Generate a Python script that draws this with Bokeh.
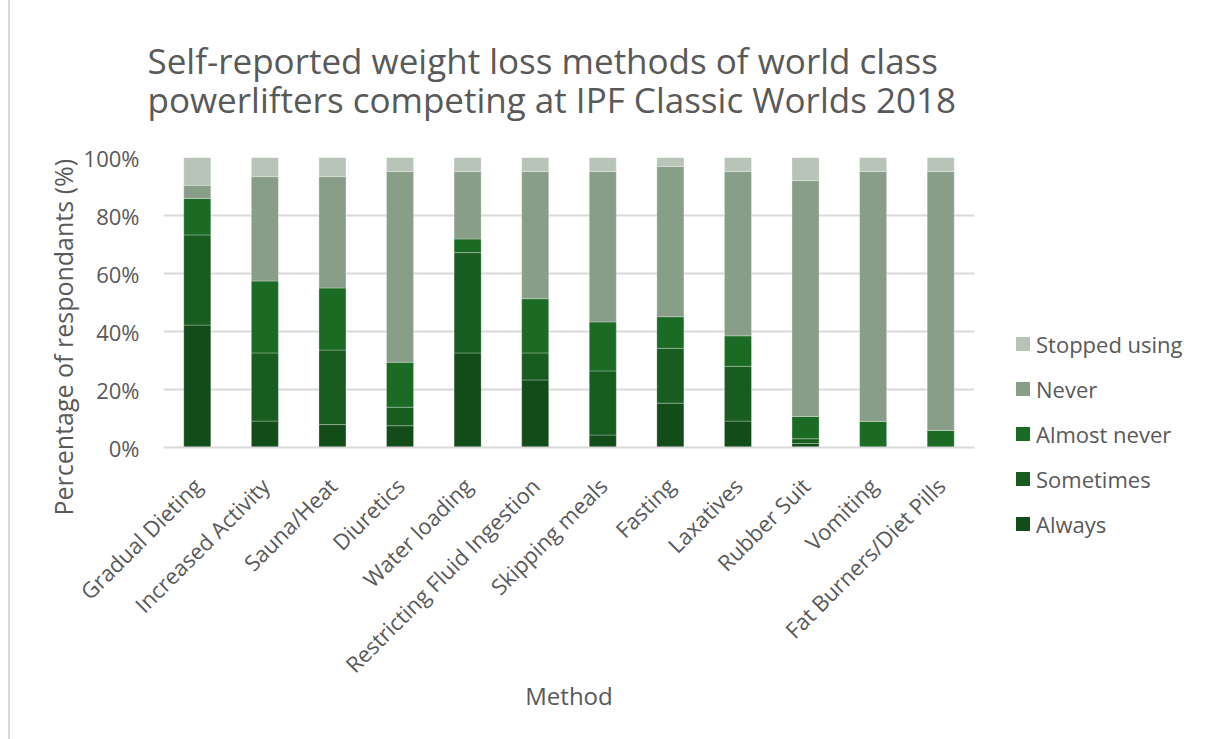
from math import pi

from bokeh.embed import file_html
from bokeh.resources import INLINE
from bokeh.plotting import figure
from bokeh.models import (ColumnDataSource, Title, Div,
                          NumeralTickFormatter, FixedTicker, Row)

# Survey answers per method (percent of respondents)
methods = ["Gradual Dieting", "Increased Activity", "Sauna/Heat", "Diuretics",
           "Water loading", "Restricting Fluid Ingestion", "Skipping meals",
           "Fasting", "Laxatives", "Rubber Suit", "Vomiting",
           "Fat Burners/Diet Pills"]
always = [42.2, 9.1, 7.9, 7.5, 32.6, 23.3, 4.3, 15.3, 9.1, 1.4, 0.0, 0.0]
sometimes = [31.1, 23.5, 25.7, 6.4, 34.6, 9.3, 22.1, 18.9, 18.9, 1.6, 0.0, 0.0]
almost_never = [12.6, 24.8, 21.4, 15.5, 4.7, 18.7, 16.9, 10.9, 10.5, 7.7, 9.0, 5.9]
never = [4.5, 36.0, 38.4, 65.8, 23.3, 43.9, 51.9, 51.8, 56.7, 81.3, 86.2, 89.3]
stopped = [9.6, 6.6, 6.6, 4.8, 4.8, 4.8, 4.8, 3.1, 4.8, 8.0, 4.8, 4.8]

series = ["Always", "Sometimes", "Almost never", "Never", "Stopped using"]
colors = ["#124c19", "#185c20", "#1c6b24", "#889e88", "#b8c4b8"]
y_ticks = [0, 0.2, 0.4, 0.6, 0.8, 1.0]

title_lines = ["Self-reported weight loss methods of world class",
               "powerlifters competing at IPF Classic Worlds 2018"]

FONT = "Open Sans"
TEXT = "#595959"
H = 739

src = ColumnDataSource({
    "method": methods,
    "Always": [v / 100 for v in always],
    "Sometimes": [v / 100 for v in sometimes],
    "Almost never": [v / 100 for v in almost_never],
    "Never": [v / 100 for v in never],
    "Stopped using": [v / 100 for v in stopped],
})

p = figure(x_range=methods, y_range=(0, 1.0), width=980, height=H,
           output_backend="svg", toolbar_location=None,
           min_border_left=153, min_border_right=16,
           min_border_top=156, min_border_bottom=292)
p.outline_line_color = None
p.border_fill_color = "white"

p.vbar_stack(series, x="method", width=0.4, source=src, color=colors,
             line_color="white", line_alpha=0.35, line_width=0.8)

p.yaxis.ticker = FixedTicker(ticks=y_ticks)
p.yaxis.formatter = NumeralTickFormatter(format="0%")
p.yaxis.axis_line_color = None
p.yaxis.major_tick_line_color = None
p.yaxis.minor_tick_line_color = None
p.yaxis.major_label_standoff = 18
p.yaxis.major_label_text_font = FONT
p.yaxis.major_label_text_font_size = "22px"
p.yaxis.major_label_text_color = TEXT

p.xaxis.axis_line_color = "#d9d9d9"
p.xaxis.axis_line_width = 2
p.xaxis.major_tick_line_color = None
p.xaxis.minor_tick_line_color = None
p.xaxis.major_label_orientation = pi / 4
p.xaxis.major_label_standoff = 28
p.xaxis.major_label_text_font = FONT
p.xaxis.major_label_text_font_size = "22px"
p.xaxis.major_label_text_color = TEXT
p.xaxis.axis_label = "Method"
p.xaxis.axis_label_text_font = FONT
p.xaxis.axis_label_text_font_size = "24px"
p.xaxis.axis_label_text_font_style = "normal"
p.xaxis.axis_label_text_color = TEXT
p.xaxis.axis_label_standoff = -13

p.xgrid.grid_line_color = None
p.ygrid.ticker = FixedTicker(ticks=y_ticks)
p.ygrid.grid_line_color = "#d9d9d9"
p.ygrid.grid_line_width = 2

# chart title
p.title.text = "\n".join(title_lines)
p.title.align = "left"
p.title.offset = -16
p.title.standoff = 68
p.title.text_font = FONT
p.title.text_font_size = "35px"
p.title.text_font_style = "normal"
p.title.text_color = TEXT
if "text_line_height" in Title.properties():
    p.title.text_line_height = 0.85

# vertical axis title
p.add_layout(Title(text="Percentage of respondants (%)", align="left",
                   offset=-68, standoff=2, text_font=FONT,
                   text_font_size="25px", text_font_style="normal",
                   text_color=TEXT), "left")

# legend column, top entry is the top of the stack
rows = "".join(
    '<div style="height:45px;display:flex;align-items:center;'
    'white-space:nowrap">'
    f'<span style="display:inline-block;width:14px;height:14px;'
    f'background:{c};margin-right:6px"></span>{name}</div>'
    for name, c in zip(series[::-1], colors[::-1]))
legend_box = Div(
    text=(f'<div style="padding-top:321px;padding-left:26px;'
          f'font-family:\'{FONT}\';font-size:22px;color:{TEXT};'
          f'line-height:1">{rows}</div>'),
    width=215, height=H, margin=0,
    styles={"background": "white"})

edge = Div(width=10, height=H, margin=0,
           styles={"border-right": "2px solid #d9d9d9",
                   "box-sizing": "border-box", "background": "white"})

open("out.html", "w").write(
    file_html(Row(edge, p, legend_box, spacing=0), INLINE))
